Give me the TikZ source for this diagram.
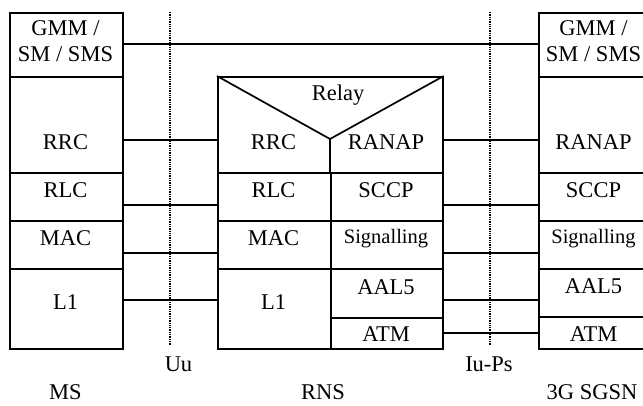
\documentclass[tikz,border=0pt]{standalone}
\usepackage{fontspec}
\setmainfont{Liberation Serif}
\begin{document}
\begin{tikzpicture}[x=1pt,y=-1pt,
  every node/.style={font=\fontsize{22.5}{26}\selectfont},
  cell/.style={draw,line width=1.7pt,inner sep=0pt,anchor=north west},
  lbl/.style={anchor=base,inner sep=0pt},
  small/.style={font=\fontsize{20.5}{24}\selectfont},
  conn/.style={line width=1.7pt},
  iface/.style={line width=1.3pt,densely dotted}]
\useasboundingbox (0,0) rectangle (643,405);
% ---------- MS stack
\node[cell,minimum width=113pt,minimum height=64pt] (msgmm) at (9,12) {};
\node[cell,minimum width=113pt,minimum height=96pt] (msrrc) at (9,76) {};
\node[cell,minimum width=113pt,minimum height=48pt] (msrlc) at (9,172) {};
\node[cell,minimum width=113pt,minimum height=48pt] (msmac) at (9,220) {};
\node[cell,minimum width=113pt,minimum height=80pt] (msl1) at (9,268) {};
\node[lbl] (tmsgmm) at (65.5,35) {GMM /};
\node[lbl] (tmssm) at (65.5,61) {SM / SMS};
\node[lbl] (tmsrrc) at (65.5,149) {RRC};
\node[lbl] (tmsrlc) at (65.5,197) {RLC};
\node[lbl] (tmsmac) at (65.5,245) {MAC};
\node[lbl] (tmsl1) at (65.5,309) {L1};
% ---------- RNS stack
\node[cell,minimum width=225pt,minimum height=96pt] (rnstop) at (217,76) {};
\node[cell,minimum width=113pt,minimum height=48pt] (rnsrlc) at (217,172) {};
\node[cell,minimum width=113pt,minimum height=48pt] (rnsmac) at (217,220) {};
\node[cell,minimum width=113pt,minimum height=80pt] (rnsl1) at (217,268) {};
\node[cell,minimum width=112pt,minimum height=48pt] (rnssccp) at (330,172) {};
\node[cell,minimum width=112pt,minimum height=48pt] (rnssig) at (330,220) {};
\node[cell,minimum width=112pt,minimum height=49pt] (rnsaal) at (330,268) {};
\node[cell,minimum width=112pt,minimum height=31pt] (rnsatm) at (330,317) {};
\coordinate (vtip) at (330,139);
\draw[conn,line join=miter] (rnstop.north west) -- (vtip) -- (rnstop.north east);
\draw[conn] (vtip) -- (rnssccp.north west);
\node[lbl] (trelay) at (338,100) {Relay};
\node[lbl] (trnsrrc) at (273.5,149) {RRC};
\node[lbl] (tranap1) at (386,149) {RANAP};
\node[lbl] (trnsrlc) at (273.5,197) {RLC};
\node[lbl] (tsccp1) at (386,197) {SCCP};
\node[lbl] (trnsmac) at (273.5,245) {MAC};
\node[lbl,small] (tsig1) at (386,243) {Signalling};
\node[lbl] (trnsl1) at (273.5,309) {L1};
\node[lbl] (taal1) at (386,294) {AAL5};
\node[lbl] (tatm1) at (386,341) {ATM};
% ---------- SGSN stack
\node[cell,minimum width=112pt,minimum height=64pt] (sggmm) at (538,12) {};
\node[cell,minimum width=112pt,minimum height=96pt] (sgranap) at (538,76) {};
\node[cell,minimum width=112pt,minimum height=48pt] (sgsccp) at (538,172) {};
\node[cell,minimum width=112pt,minimum height=48pt] (sgsig) at (538,220) {};
\node[cell,minimum width=112pt,minimum height=48pt] (sgaal) at (538,268) {};
\node[cell,minimum width=112pt,minimum height=32pt] (sgatm) at (538,316) {};
\node[lbl] (tsggmm) at (593.5,35) {GMM /};
\node[lbl] (tsgsm) at (593.5,61) {SM / SMS};
\node[lbl] (tranap2) at (593.5,149) {RANAP};
\node[lbl] (tsccp2) at (593.5,197) {SCCP};
\node[lbl,small] (tsig2) at (593.5,243) {Signalling};
\node[lbl] (taal2) at (593.5,293) {AAL5};
\node[lbl] (tatm2) at (593.5,341) {ATM};
% ---------- peer connectors
\draw[conn] ([yshift=1pt]msgmm.east) -- ([yshift=1pt]sggmm.west);
\draw[conn] ([yshift=-15pt]msrrc.east) -- ([yshift=-15pt]msrrc.east -| rnstop.west);
\draw[conn] ([yshift=-8pt]msrlc.east) -- ([yshift=-8pt]rnsrlc.west);
\draw[conn] ([yshift=-8pt]msmac.east) -- ([yshift=-8pt]rnsmac.west);
\draw[conn] ([yshift=9pt]msl1.east) -- ([yshift=9pt]rnsl1.west);
\draw[conn] ([yshift=-15pt]sgranap.west) -- ([yshift=-15pt]sgranap.west -| rnstop.east);
\draw[conn] ([yshift=-8pt]rnssccp.east) -- ([yshift=-8pt]sgsccp.west);
\draw[conn] ([yshift=-8pt]rnssig.east) -- ([yshift=-8pt]sgsig.west);
\draw[conn] ([yshift=-7pt]sgaal.west) -- ([yshift=-7pt]sgaal.west -| rnsaal.east);
\draw[conn] ([yshift=0.5pt]rnsatm.east) -- ([yshift=0.5pt]rnsatm.east -| sgatm.west);
% ---------- interfaces
\coordinate (uutop) at (170,12);
\coordinate (uubot) at (170,345);
\coordinate (iutop) at (490,12);
\coordinate (iubot) at (490,345);
\draw[iface] (uutop) -- (uubot);
\draw[iface] (iutop) -- (iubot);
\node[lbl] (tuu) at (178.5,371.5) {Uu};
\node[lbl] (tiu) at (489,371.5) {Iu-Ps};
% ---------- entity names
\node[lbl] (tms) at (65.5,399.5) {MS};
\node[lbl] (trns) at (323,399.5) {RNS};
\node[lbl] (tsgsn) at (592,399.5) {3G SGSN};
\end{tikzpicture}
\end{document}
